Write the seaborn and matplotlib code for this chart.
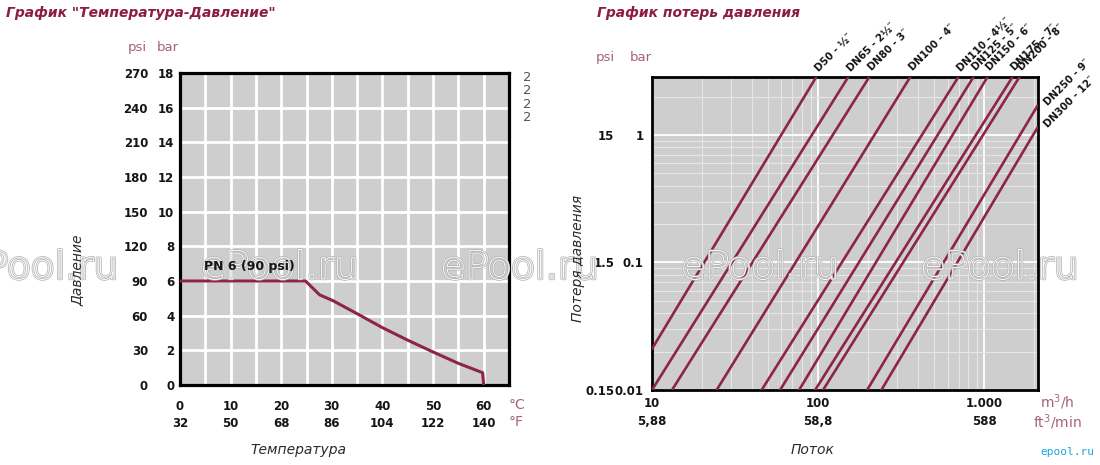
import numpy as np
import pandas as pd
import matplotlib
matplotlib.use('Agg')
import matplotlib.pyplot as plt
import matplotlib.patheffects as pe
from matplotlib.ticker import LogLocator, NullFormatter, NullLocator
import seaborn as sns

# --------------------------
# Data: temperature / pressure chart (PN 6)
# --------------------------
temp_c = [0, 24.8, 27.6, 30.2, 34.9, 40.0, 44.9, 49.9, 55.0, 59.8, 60.0]
pressure_bar = [6.0, 6.0, 5.2, 4.87, 4.13, 3.31, 2.6, 1.92, 1.25, 0.71, 0.0]

temp_ticks_c = [0, 10, 20, 30, 40, 50, 60]
temp_ticks_f = [32, 50, 68, 86, 104, 122, 140]
bar_ticks = [0, 2, 4, 6, 8, 10, 12, 14, 16, 18]
psi_ticks = [0, 30, 60, 90, 120, 150, 180, 210, 240, 270]

# --------------------------
# Data: pressure loss chart (one straight line per size, log-log)
# --------------------------
sizes = ['D50 - ½″', 'DN65 - 2½″', 'DN80 - 3″', 'DN100 - 4″', 'DN110 - 4½″',
         'DN125 - 5″', 'DN150 - 6″', 'DN175 - 7″', 'DN200 - 8″',
         'DN250 - 9″', 'DN300 - 12″']
flow_start = [10, 10, 13.2, 24.5, 45.7, 59.0, 76.8, 95.9, 107, 197, 240]
loss_start = [0.021, 0.01, 0.01, 0.01, 0.01, 0.01, 0.01, 0.01, 0.01, 0.01, 0.01]
flow_end = [97.3, 151.6, 203, 358, 697, 859, 1043, 1475, 1625, 2100, 2100]
loss_end = [2.85, 2.85, 2.85, 2.85, 2.85, 2.85, 2.85, 2.85, 2.85, 1.72, 1.16]

flow_ticks = [10, 100, 1000]
flow_labels = ['10', '100', '1.000']
flow_ft_ticks = [5.88, 58.8, 588]
flow_ft_labels = ['5,88', '58,8', '588']
loss_ticks = [0.01, 0.1, 1]
loss_labels = ['0.01', '0.1', '1']
loss_psi_ticks = [0.15, 1.5, 15]
loss_psi_labels = ['0.15', '1.5', '15']

# --------------------------
# Style
# --------------------------
sns.set_style('white')
plt.rcParams['font.family'] = ['DejaVu Sans']

LINE = '#8e2446'
TITLE = '#8c1d40'
UNIT = '#a8607a'
BG = '#cecece'
TXT = '#151515'

fig = plt.figure(figsize=(11, 4.65), dpi=100)
ax1 = fig.add_axes([0.1636, 0.172, 0.2991, 0.671])
ax2 = fig.add_axes([0.5927, 0.1613, 0.3509, 0.6731])

# --------------------------
# Left chart: Temperature - Pressure
# --------------------------
ax1.set_facecolor(BG)
sns.lineplot(x=temp_c, y=pressure_bar, sort=False, estimator=None,
             color=LINE, lw=2.2, ax=ax1, zorder=3)
ax1.set_xlim(0, 65)
ax1.set_ylim(0, 18)
ax1.set_xticks(temp_ticks_c, [str(t) for t in temp_ticks_c], fontweight='bold',
               fontsize=8.5, color=TXT)
ax1.set_xticks(np.arange(5, 70, 10), minor=True)
ax1.set_yticks(bar_ticks, [str(b) for b in bar_ticks], fontweight='bold',
               fontsize=8.5, color=TXT)
ax1.grid(which='both', color='white', lw=2)
ax1.tick_params(which='both', length=0)
ax1.tick_params(axis='x', pad=11)
ax1.tick_params(axis='y', pad=4)
for s in ax1.spines.values():
    s.set_color('black')
    s.set_linewidth(2.3)
ax1.set_xlabel('')
ax1.set_ylabel('')

psi1 = ax1.secondary_yaxis('left', functions=(lambda b: b * 15, lambda p: p / 15))
psi1.set_ticks(psi_ticks, [str(p) for p in psi_ticks], fontweight='bold',
               fontsize=8.5, color=TXT)
psi1.tick_params(length=0, pad=23)
psi1.spines['left'].set_visible(False)

fah = ax1.secondary_xaxis('bottom', functions=(lambda c: c * 1.8 + 32,
                                               lambda f: (f - 32) / 1.8))
fah.set_ticks(temp_ticks_f, [str(f) for f in temp_ticks_f], fontweight='bold',
              fontsize=8.5, color=TXT)
fah.tick_params(length=0, pad=23)
fah.spines['bottom'].set_visible(False)

# placed at figure level so it stays above the watermark
fig.text(4.7, 6.45, 'PN 6 (90 psi)', fontsize=9, fontweight='bold',
         color=TXT, va='bottom', ha='left', zorder=12, transform=ax1.transData)

# --------------------------
# Right chart: Pressure loss
# --------------------------
rows = []
for name, f0, l0, f1, l1 in zip(sizes, flow_start, loss_start, flow_end, loss_end):
    rows.append({'size': name, 'flow': f0, 'loss': l0})
    rows.append({'size': name, 'flow': f1, 'loss': l1})
loss_df = pd.DataFrame(rows)

ax2.set_facecolor(BG)
ax2.set_xscale('log')
ax2.set_yscale('log')
sns.lineplot(data=loss_df, x='flow', y='loss', units='size', estimator=None,
             sort=False, color=LINE, lw=1.9, ax=ax2, zorder=3)
ax2.set_xlim(10, 2100)
ax2.set_ylim(0.01, 2.85)
ax2.xaxis.set_minor_locator(LogLocator(base=10, subs=np.arange(2, 10)))
ax2.yaxis.set_minor_locator(LogLocator(base=10, subs=np.arange(2, 10)))
ax2.xaxis.set_minor_formatter(NullFormatter())
ax2.yaxis.set_minor_formatter(NullFormatter())
ax2.set_xticks(flow_ticks, flow_labels, fontweight='bold', fontsize=8.5, color=TXT)
ax2.set_yticks(loss_ticks, loss_labels, fontweight='bold', fontsize=8.5, color=TXT)
ax2.grid(which='major', color='white', lw=1.3)
ax2.grid(which='minor', color='#e6e6e6', lw=0.8)
ax2.tick_params(which='both', length=0)
ax2.tick_params(axis='x', pad=5)
ax2.tick_params(axis='y', pad=6)
for s in ax2.spines.values():
    s.set_color('black')
    s.set_linewidth(2)
ax2.set_xlabel('')
ax2.set_ylabel('')

psi2 = ax2.secondary_yaxis('left', functions=(lambda b: b * 15, lambda p: p / 15))
psi2.set_ticks(loss_psi_ticks, loss_psi_labels, fontweight='bold', fontsize=8.5, color=TXT)
psi2.yaxis.set_minor_locator(NullLocator())
psi2.tick_params(which='both', length=0, pad=27)
psi2.spines['left'].set_visible(False)

ft = ax2.secondary_xaxis('bottom', functions=(lambda q: q * 0.588, lambda f: f / 0.588))
ft.set_ticks(flow_ft_ticks, flow_ft_labels, fontweight='bold', fontsize=8.5, color=TXT)
ft.xaxis.set_minor_locator(NullLocator())
ft.tick_params(which='both', length=0, pad=18)
ft.spines['bottom'].set_visible(False)

# size labels, rotated along the top / right edge
for i, name in enumerate(sizes):
    off = (3, 3) if loss_end[i] >= 2.85 else (8, -2)
    ax2.annotate(name, (flow_end[i], loss_end[i]), xytext=off,
                 textcoords='offset points', rotation=45, rotation_mode='anchor',
                 ha='left', va='bottom', fontsize=7.3, fontweight='bold',
                 color=TXT, annotation_clip=False)

# --------------------------
# Titles, units, axis names
# --------------------------
fig.text(0.005, 0.972, 'График "Температура-Давление"', fontsize=10,
         fontweight='bold', style='italic', color=TITLE, va='center')
fig.text(0.5427, 0.972, 'График потерь давления', fontsize=10,
         fontweight='bold', style='italic', color=TITLE, va='center')

for x, y, s in [(0.1245, 0.897, 'psi'), (0.1527, 0.897, 'bar'),
                (0.550, 0.877, 'psi'), (0.5827, 0.877, 'bar')]:
    fig.text(x, y, s, fontsize=9.5, color=UNIT, ha='center', va='center')

fig.text(0.4627, 0.129, '°C', fontsize=10, color=UNIT, ha='left', va='center')
fig.text(0.4627, 0.092, '°F', fontsize=10, color=UNIT, ha='left', va='center')
fig.text(0.961, 0.135, 'm$^3$/h', fontsize=10, color=UNIT, ha='center', va='center')
fig.text(0.961, 0.093, 'ft$^3$/min', fontsize=10, color=UNIT, ha='center', va='center')

fig.text(0.479, 0.79, '2\n2\n2\n2', fontsize=9.5, color='#555555', ha='center',
         va='center', linespacing=1.05)

fig.text(0.0709, 0.419, 'Давление', rotation=90, style='italic', fontsize=10,
         color='#2b2b2b', ha='center', va='center', zorder=12)
fig.text(0.271, 0.032, 'Температура', style='italic', fontsize=10,
         color='#2b2b2b', ha='center', va='center')
fig.text(0.5255, 0.445, 'Потеря давления', rotation=90, style='italic', fontsize=10,
         color='#2b2b2b', ha='center', va='center', zorder=12)
fig.text(0.739, 0.032, 'Поток', style='italic', fontsize=10,
         color='#2b2b2b', ha='center', va='center')

# hollow watermarks (outline only, no fill)
for xc in [0.036, 0.2545, 0.4727, 0.691, 0.909]:
    fig.text(xc, 0.4237, 'ePool.ru', fontsize=28, color=(1, 1, 1, 0),
             ha='center', va='center', zorder=10,
             path_effects=[pe.Stroke(linewidth=1.7, foreground='#b0b0b0'),
                           pe.Stroke(linewidth=0.7, foreground='#fafafa')])

fig.text(0.995, 0.028, 'epool.ru', fontsize=8, color='#1aa6d9',
         ha='right', va='center', family='DejaVu Sans Mono')

fig.savefig('out.png', dpi=100)
